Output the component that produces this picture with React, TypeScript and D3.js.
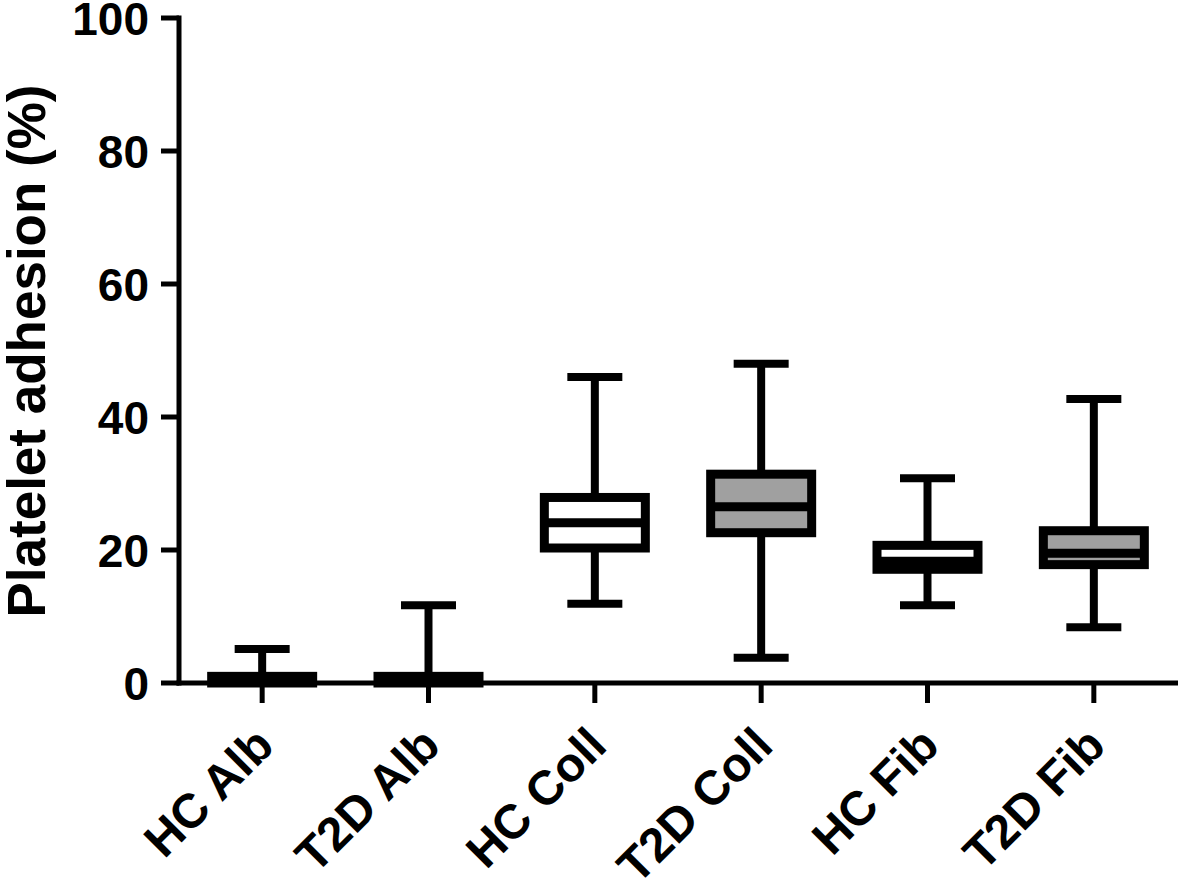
import React from "react";
import * as d3 from "d3";

const categories = ["HC Alb", "T2D Alb", "HC Coll", "T2D Coll", "HC Fib", "T2D Fib"];
const mins = [0, 0, 11.9, 3.8, 11.7, 8.4];
const q1s = [0, 0, 20.3, 22.6, 17.1, 17.8];
const medians = [0.3, 0.3, 24.1, 26.5, 18.3, 19.5];
const q3s = [1.0, 1.0, 27.9, 31.4, 20.7, 22.9];
const maxs = [5.1, 11.7, 46.0, 48.0, 30.8, 42.7];
const yTicks = [0, 20, 40, 60, 80, 100];
const yLabel = "Platelet adhesion (%)";

const W = 1181;
const H = 885;
const FONT = "Arial, 'Liberation Sans', Helvetica, sans-serif";

export default function App() {
  const x = d3.scaleBand<string>().domain(categories).range([179, 1177]).padding(0);
  const y = d3.scaleLinear().domain([0, 100]).range([683, 18]);
  const bw = x.bandwidth();
  const boxW = 101;
  const capW = 55;

  return (
    <svg
      width={W}
      height={H}
      style={{ position: "fixed", left: 0, top: 0, background: "#fff" }}
      fontFamily={FONT}
    >
      <rect x={0} y={0} width={W} height={H} fill="#fff" />
      {/* y axis */}
      <line x1={179} x2={179} y1={y(100) - 2.5} y2={y(0) + 2.5} stroke="#000" strokeWidth={5} />
      {yTicks.map((t) => (
        <g key={t}>
          <line x1={161} x2={179} y1={y(t)} y2={y(t)} stroke="#000" strokeWidth={5} />
          <text
            x={149}
            y={y(t)}
            dy="0.36em"
            textAnchor="end"
            fontSize={46}
            fontWeight="bold"
            fill="#000"
          >
            {t}
          </text>
        </g>
      ))}
      <text
        transform={`translate(45,${351}) rotate(-90)`}
        textAnchor="middle"
        fontSize={53}
        fontWeight="bold"
        fill="#000"
      >
        {yLabel}
      </text>
      {/* x axis */}
      <line x1={176.5} x2={1178} y1={y(0)} y2={y(0)} stroke="#000" strokeWidth={5} />
      {categories.map((c) => {
        const cx = (x(c) as number) + bw / 2;
        return (
          <g key={c}>
            <line x1={cx} x2={cx} y1={y(0)} y2={y(0) + 20} stroke="#000" strokeWidth={5} />
            <text
              transform={`translate(${cx + 14},748) rotate(-45)`}
              textAnchor="end"
              fontSize={48}
              fontWeight="bold"
              fill="#000"
            >
              {c}
            </text>
          </g>
        );
      })}
      {/* boxes */}
      {categories.map((c, i) => {
        const cx = (x(c) as number) + bw / 2;
        const fill = c.startsWith("T2D") ? "#a0a0a0" : "#ffffff";
        return (
          <g key={"b" + c}>
            <line x1={cx} x2={cx} y1={y(maxs[i])} y2={y(q3s[i])} stroke="#000" strokeWidth={8} />
            <line x1={cx} x2={cx} y1={y(q1s[i])} y2={y(mins[i])} stroke="#000" strokeWidth={8} />
            <line
              x1={cx - capW / 2}
              x2={cx + capW / 2}
              y1={y(maxs[i])}
              y2={y(maxs[i])}
              stroke="#000"
              strokeWidth={8}
            />
            <line
              x1={cx - capW / 2}
              x2={cx + capW / 2}
              y1={y(mins[i])}
              y2={y(mins[i])}
              stroke="#000"
              strokeWidth={8}
            />
            <rect
              x={cx - boxW / 2}
              y={y(q3s[i])}
              width={boxW}
              height={Math.max(0, y(q1s[i]) - y(q3s[i]))}
              fill={fill}
              stroke="#000"
              strokeWidth={9}
            />
            <line
              x1={cx - boxW / 2}
              x2={cx + boxW / 2}
              y1={y(medians[i])}
              y2={y(medians[i])}
              stroke="#000"
              strokeWidth={9}
            />
          </g>
        );
      })}
    </svg>
  );
}
